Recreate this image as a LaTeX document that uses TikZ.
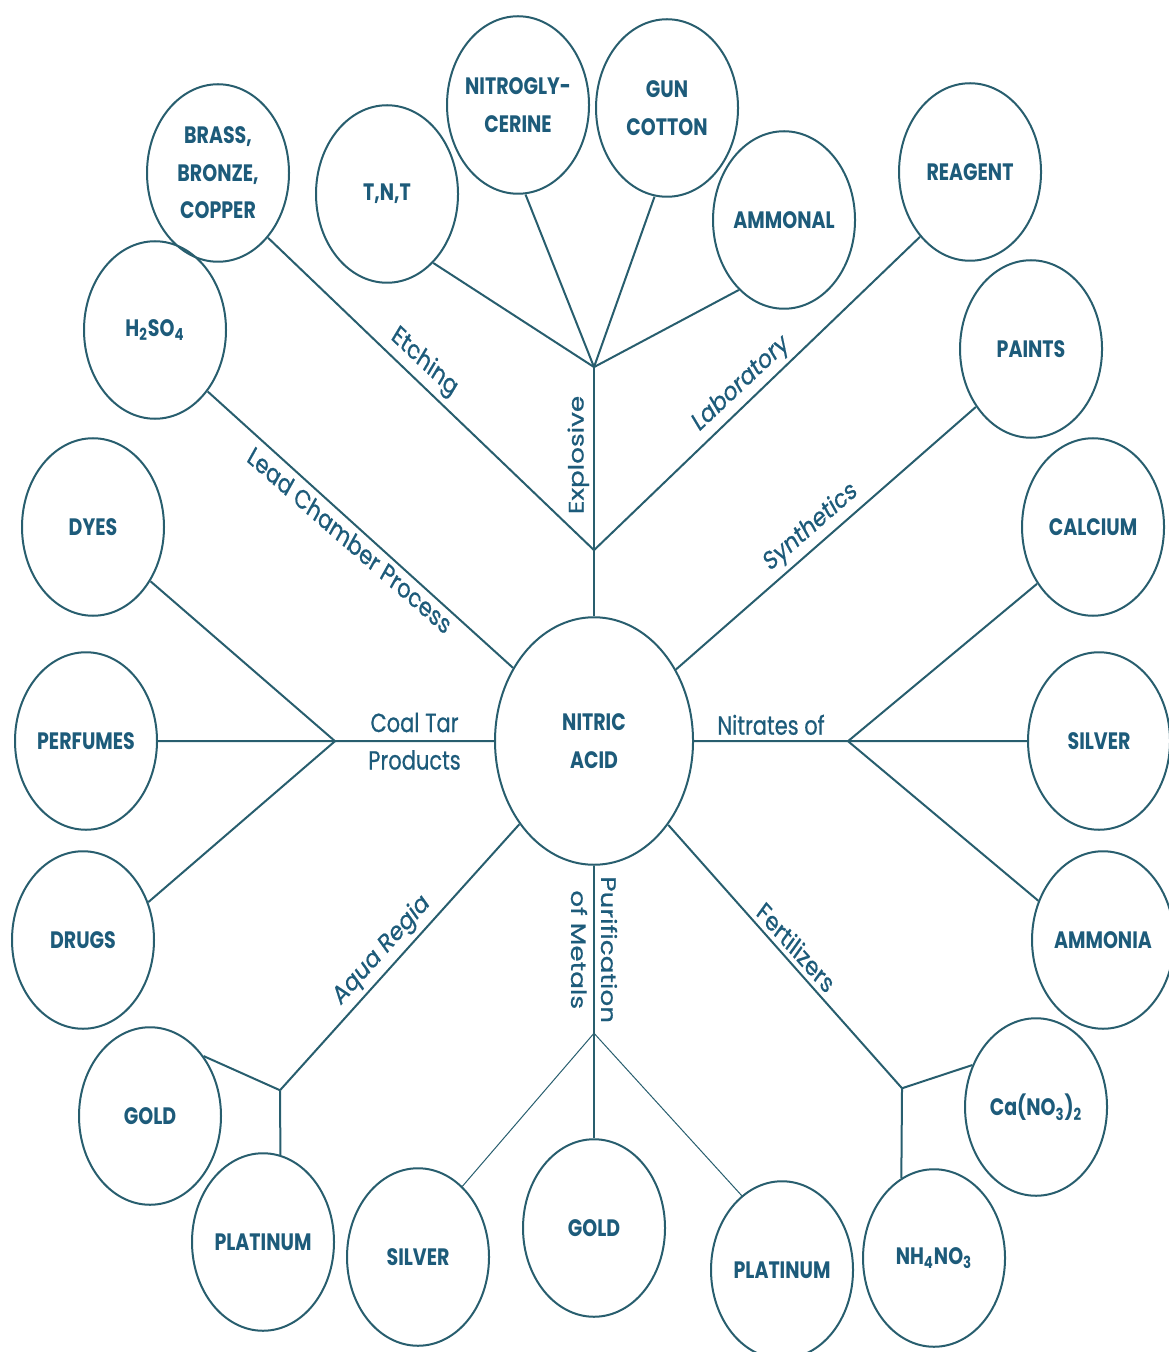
\documentclass[tikz,border=0pt]{standalone}
\usepackage{fontspec}
\setmainfont{Poppins}
\newfontface\lblfont{Poppins}[FakeBold=0.7]
\usepackage{tikz}
\usetikzlibrary{positioning}
\definecolor{acid}{HTML}{285E6E}
\definecolor{ink}{HTML}{1D5B7A}
\tikzstyle{usage}=[circle,draw=acid,line width=1pt,minimum size=71pt,inner sep=0pt,
                   align=center,text=ink,font=\fontsize{9.5}{15}\selectfont\bfseries]
\tikzstyle{core}=[usage,minimum size=99pt]
\tikzstyle{lbl}=[text=ink,font=\fontsize{10.5}{15}\lblfont,inner sep=2pt]
\tikzstyle{links}=[every edge/.style={draw=acid,line width=1pt}]
\tikzstyle{fine}=[line width=0.5pt]

\begin{document}
\begin{tikzpicture}[links,x=0.5pt,y=-0.4pt,yscale=1.25,
                    every node/.append style={transform shape}]
\useasboundingbox (0,0) rectangle (1168,1352);

\node[core] (nitric) at (594,741) {NITRIC\\ACID};

% top
\node[usage] (brass) at (218,173) {BRASS,\\BRONZE,\\COPPER};
\node[usage] (tnt) at (387,194) {T,N,T};
\node[usage] (nitro) at (518,105) {NITROGLY-\\CERINE};
\node[usage] (gun) at (667,108) {GUN\\COTTON};
\node[usage] (ammonal) at (784,220) {AMMONAL};
\node[usage] (reagent) at (970,172) {REAGENT};
\node[usage] (h2so4) at (155,330) {H\textsubscript{2}SO\textsubscript{4}};
\node[usage] (paints) at (1031,349) {PAINTS};

% sides
\node[usage] (dyes) at (93,527) {DYES};
\node[usage] (perfumes) at (86,741) {PERFUMES};
\node[usage] (drugs) at (83,940) {DRUGS};
\node[usage] (calcium) at (1093,527) {CALCIUM};
\node[usage] (silverR) at (1099,741) {SILVER};
\node[usage] (ammonia) at (1103,940) {AMMONIA};

% bottom
\node[usage] (goldL) at (150,1116) {GOLD};
\node[usage] (platL) at (263,1242) {PLATINUM};
\node[usage] (silverB) at (418,1257) {SILVER};
\node[usage] (goldB) at (594,1228) {GOLD};
\node[usage] (platR) at (782,1270) {PLATINUM};
\node[usage] (nh4) at (934,1258) {NH\textsubscript{4}NO\textsubscript{3}};
\node[usage] (cano) at (1036,1107) {Ca(NO\textsubscript{3})\textsubscript{2}};

\coordinate (ej) at (594,367);
\coordinate (lj) at (594,550);
\coordinate (cj) at (335,741);
\coordinate (nj) at (848,741);
\coordinate (aj) at (280,1090);
\coordinate (pj) at (594,1033);
\coordinate (fj) at (902,1088);

\path
(lj) edge node[lbl,pos=0.52,above,rotate=90] {Explosive} (ej)
(lj) edge (nitric)
(ej) edge (tnt.-50) (ej) edge (nitro.-84)
(ej) edge (gun.-100) (ej) edge (ammonal.-129)
(brass.-46) edge node[lbl,pos=0.45,above,rotate=-37] {Etching} (lj)
(lj) edge node[lbl,pos=0.48,above,rotate=37] {Laboratory} (reagent.-134)
(h2so4.-43) edge node[lbl,pos=0.49,below,rotate=-35] {Lead Chamber Process} (nitric)
(nitric) edge node[lbl,pos=0.48,above,rotate=35] {Synthetics} (paints.-140)
;
\path
(cj) edge node[lbl,midway,align=center] {Coal Tar\\Products} (nitric)
(cj) edge (perfumes) (cj) edge (dyes.-37) (cj) edge (drugs.25)
(nitric) edge node[lbl,midway,above] {Nitrates of} (nj)
(nj) edge (silverR) (nj) edge (calcium.-141) (nj) edge (ammonia.154)
;
\path
(aj) edge node[lbl,pos=0.47,above,rotate=42] {Aqua Regia} (nitric)
(aj) edge (goldL.42) (aj) edge (platL.76)
(nitric) edge node[lbl,midway,rotate=-90,align=center] {Purification\\of Metals} (pj)
(pj) edge (goldB) (pj) edge[fine] (silverB.52) (pj) edge[fine] (platR.124)
(nitric) edge node[lbl,pos=0.51,above,rotate=-42] {Fertilizers} (fj)
(fj) edge (cano.152) (fj) edge (nh4.117)
;
\end{tikzpicture}
\end{document}
